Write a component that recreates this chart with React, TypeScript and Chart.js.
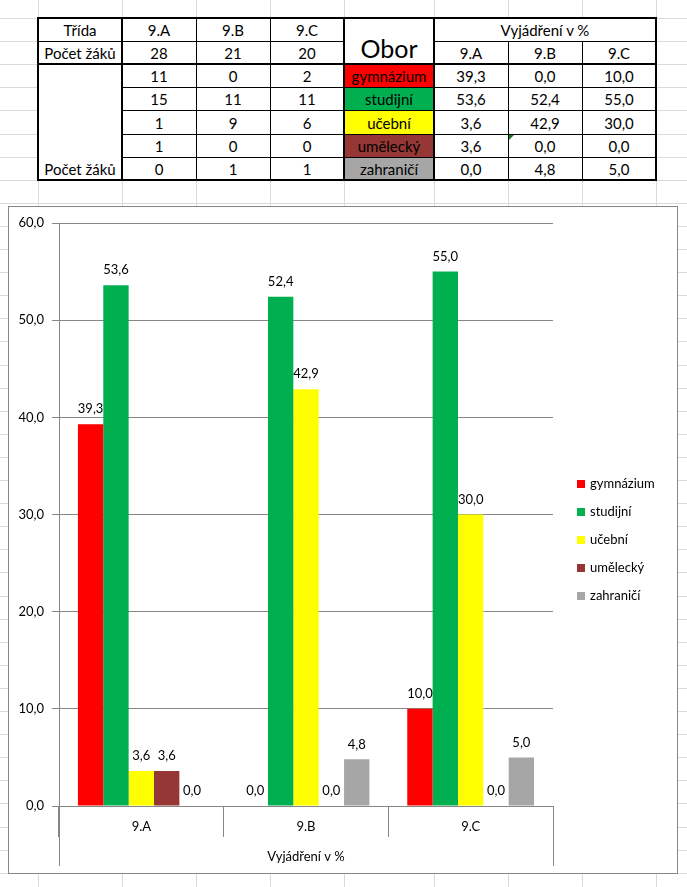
import React, { useEffect, useRef } from 'react';
import { Chart, registerables } from 'chart.js';

Chart.register(...registerables);

// ---------- data ----------
const classes = ['9.A', '9.B', '9.C'];
const pupilCounts = [28, 21, 20];
const fields = ['gymnázium', 'studijní', 'učební', 'umělecký', 'zahraničí'];
const fieldColors = ['#FF0000', '#00B050', '#FFFF00', '#953735', '#A6A6A6'];
const countsGymnazium = [11, 0, 2];
const countsStudijni = [15, 11, 11];
const countsUcebni = [1, 9, 6];
const countsUmelecky = [1, 0, 0];
const countsZahranici = [0, 1, 1];
const pctGymnazium = [39.3, 0.0, 10.0];
const pctStudijni = [53.6, 52.4, 55.0];
const pctUcebni = [3.6, 42.9, 30.0];
const pctUmelecky = [3.6, 0.0, 0.0];
const pctZahranici = [0.0, 4.8, 5.0];
const yTicks = [0, 10, 20, 30, 40, 50, 60];
const headerClass = 'Třída';
const headerPupils = 'Počet žáků';
const headerField = 'Obor';
const percentTitle = 'Vyjádření v %';

const countRows = [countsGymnazium, countsStudijni, countsUcebni, countsUmelecky, countsZahranici];
const pctRows = [pctGymnazium, pctStudijni, pctUcebni, pctUmelecky, pctZahranici];

const FONT = 'Lato, "Open Sans", sans-serif';
const fmt = (v: number) => v.toFixed(1).replace('.', ',');

// ---------- sheet layout ----------
const COLS = [38, 122, 196, 270, 344, 434, 508, 582, 656];
const rowY = (k: number) => Math.round(18 + 23.1 * k);
const GRID = '#DADADA';

function Cell(props: { x1: number; x2: number; y1: number; y2: number; text: string; bg?: string; size?: number; pb?: number }) {
  const { x1, x2, y1, y2, text, bg, size = 15, pb = 2 } = props;
  return (
    <div
      style={{
        position: 'absolute', left: x1, top: y1, width: x2 - x1, height: y2 - y1,
        display: 'flex', alignItems: 'flex-end', justifyContent: 'center',
        background: bg || 'transparent', fontFamily: FONT, fontSize: size, lineHeight: 1.2,
        paddingBottom: pb, boxSizing: 'border-box', color: '#000', whiteSpace: 'nowrap',
      }}
    >
      {text}
    </div>
  );
}

function HLine({ x1, x2, y, w = 1, color = '#000' }: { x1: number; x2: number; y: number; w?: number; color?: string }) {
  return <div style={{ position: 'absolute', left: x1 - (w > 1 ? 1 : 0), top: y - (w > 1 ? 1 : 0), width: x2 - x1 + (w > 1 ? 2 : 1), height: w, background: color }} />;
}
function VLine({ x, y1, y2, w = 1, color = '#000' }: { x: number; y1: number; y2: number; w?: number; color?: string }) {
  return <div style={{ position: 'absolute', left: x - (w > 1 ? 1 : 0), top: y1 - (w > 1 ? 1 : 0), width: w, height: y2 - y1 + (w > 1 ? 2 : 1), background: color }} />;
}

function SheetGrid() {
  const rows: number[] = [];
  for (let k = 0; rowY(k) < 887; k++) rows.push(rowY(k));
  return (
    <>
      {COLS.map((x) => <VLine key={'gv' + x} x={x} y1={0} y2={887} color={GRID} />)}
      {rows.map((y) => <HLine key={'gh' + y} x1={0} x2={687} y={y} color={GRID} />)}
    </>
  );
}

function Table() {
  const r = (k: number) => rowY(k);
  const c = COLS;
  const cells: React.ReactNode[] = [];
  // header rows
  cells.push(<Cell key="h0" x1={c[0]} x2={c[1]} y1={r(0)} y2={r(1)} text={headerClass} />);
  cells.push(<Cell key="h1" x1={c[0]} x2={c[1]} y1={r(1)} y2={r(2)} text={headerPupils} />);
  classes.forEach((cl, i) => {
    cells.push(<Cell key={'hc' + i} x1={c[1 + i]} x2={c[2 + i]} y1={r(0)} y2={r(1)} text={cl} />);
    cells.push(<Cell key={'pc' + i} x1={c[1 + i]} x2={c[2 + i]} y1={r(1)} y2={r(2)} text={String(pupilCounts[i])} />);
    cells.push(<Cell key={'pp' + i} x1={c[5 + i]} x2={c[6 + i]} y1={r(1)} y2={r(2)} text={cl} />);
  });
  cells.push(<Cell key="obor" x1={c[4]} x2={c[5]} y1={r(0)} y2={r(2)} text={headerField} size={25} pb={1} />);
  cells.push(<Cell key="vyj" x1={c[5]} x2={c[8]} y1={r(0)} y2={r(1)} text={percentTitle} />);
  cells.push(<Cell key="pz" x1={c[0]} x2={c[1]} y1={r(2)} y2={r(7)} text={headerPupils} />);
  fields.forEach((f, k) => {
    cells.push(<Cell key={'f' + k} x1={c[4]} x2={c[5]} y1={r(2 + k)} y2={r(3 + k)} text={f} bg={fieldColors[k]} />);
    classes.forEach((_, i) => {
      cells.push(<Cell key={'n' + k + i} x1={c[1 + i]} x2={c[2 + i]} y1={r(2 + k)} y2={r(3 + k)} text={String(countRows[k][i])} />);
      cells.push(<Cell key={'p' + k + i} x1={c[5 + i]} x2={c[6 + i]} y1={r(2 + k)} y2={r(3 + k)} text={fmt(pctRows[k][i])} />);
    });
  });

  const lines: React.ReactNode[] = [];
  // thin lines
  lines.push(<HLine key="t41a" x1={c[0]} x2={c[4]} y={r(1)} />);
  lines.push(<HLine key="t41b" x1={c[5]} x2={c[8]} y={r(1)} />);
  for (let k = 3; k <= 6; k++) lines.push(<HLine key={'th' + k} x1={c[1]} x2={c[8]} y={r(k)} />);
  [c[2], c[3]].forEach((x) => lines.push(<VLine key={'tv' + x} x={x} y1={r(0)} y2={r(7)} />));
  [c[6], c[7]].forEach((x) => lines.push(<VLine key={'tv' + x} x={x} y1={r(1)} y2={r(7)} />));
  // thick lines
  [r(0), r(2), r(7)].forEach((y) => lines.push(<HLine key={'Th' + y} x1={c[0]} x2={c[8]} y={y} w={2} />));
  [c[0], c[1], c[4], c[5], c[8]].forEach((x) => lines.push(<VLine key={'Tv' + x} x={x} y1={r(0)} y2={r(7)} w={2} />));

  return (
    <>
      <div style={{ position: 'absolute', left: c[0], top: r(0), width: c[8] - c[0], height: r(7) - r(0), background: '#fff' }} />
      {cells}
      {lines}
      <div style={{ position: 'absolute', left: c[6] + 1, top: r(5) + 1, width: 0, height: 0, borderTop: '5px solid #1D7A1D', borderRight: '5px solid transparent' }} />
    </>
  );
}

// ---------- chart ----------
function BarChart() {
  const ref = useRef<HTMLCanvasElement>(null);
  useEffect(() => {
    const canvas = ref.current;
    if (!canvas) return;

    const valueLabels = {
      id: 'valueLabels',
      afterDatasetsDraw(chart: any) {
        const ctx = chart.ctx;
        ctx.save();
        ctx.font = `13px ${FONT}`;
        ctx.fillStyle = '#000';
        ctx.textAlign = 'center';
        ctx.textBaseline = 'middle';
        chart.data.datasets.forEach((ds: any, i: number) => {
          const meta = chart.getDatasetMeta(i);
          meta.data.forEach((el: any, j: number) => {
            ctx.fillText(fmt(ds.data[j]), el.x, el.y - 15);
          });
        });
        ctx.restore();
      },
    };

    const extras = {
      id: 'extras',
      afterDraw(chart: any) {
        const ctx = chart.ctx;
        const xs = chart.scales.x;
        const area = chart.chartArea;
        ctx.save();
        ctx.strokeStyle = '#868686';
        ctx.lineWidth = 1;
        [xs.left, xs.right].forEach((px: number) => {
          const p = Math.round(px - 0.5) + 0.5;
          ctx.beginPath();
          ctx.moveTo(p, area.bottom);
          ctx.lineTo(p, xs.bottom - 7);
          ctx.stroke();
        });
        // legend
        const n = chart.data.datasets.length;
        const x0 = area.right + 24;
        const cy = chart.height / 2;
        ctx.font = `13px ${FONT}`;
        ctx.textAlign = 'left';
        ctx.textBaseline = 'middle';
        chart.data.datasets.forEach((ds: any, i: number) => {
          const y = Math.round(cy + (i - (n - 1) / 2) * 28);
          ctx.fillStyle = ds.backgroundColor;
          ctx.fillRect(x0, y - 4, 8, 8);
          ctx.fillStyle = '#000';
          ctx.fillText(ds.label, x0 + 13, y);
        });
        ctx.restore();
      },
    };

    const chart = new Chart(canvas, {
      type: 'bar',
      data: {
        labels: classes,
        datasets: fields.map((f, k) => ({
          label: f,
          data: pctRows[k],
          backgroundColor: fieldColors[k],
          borderWidth: 0,
          categoryPercentage: 0.77,
          barPercentage: 1,
        })),
      },
      options: {
        responsive: false,
        animation: false,
        events: [],
        layout: { padding: { left: 0, right: 124, top: 16, bottom: 0 } },
        plugins: { legend: { display: false }, tooltip: { enabled: false } },
        scales: {
          x: {
            type: 'category',
            grid: { offset: true, drawOnChartArea: false, drawTicks: true, tickLength: 31, color: '#868686' },
            border: { display: true, color: '#868686' },
            ticks: { padding: -18, color: '#000', font: { family: FONT, size: 13 } },
            title: { display: true, text: percentTitle, color: '#000', font: { family: FONT, size: 13 }, padding: { top: 0, bottom: 8 } },
            afterFit: (s: any) => { s.height = 67; },
          },
          y: {
            min: yTicks[0],
            max: yTicks[yTicks.length - 1],
            afterBuildTicks: (s: any) => { s.ticks = yTicks.map((v) => ({ value: v })); },
            ticks: { padding: 8, color: '#000', font: { family: FONT, size: 13 }, callback: (v: any) => fmt(Number(v)) },
            grid: { color: '#868686', tickLength: 7 },
            border: { color: '#868686' },
            afterFit: (s: any) => { s.width = 50; },
          },
        },
      },
      plugins: [valueLabels, extras],
    } as any);
    return () => chart.destroy();
  }, []);
  return <canvas ref={ref} width={668} height={666} style={{ display: 'block', position: 'absolute', left: 0, top: 0 }} />;
}

export default function App() {
  return (
    <div style={{ position: 'relative', width: 687, height: 887, background: '#fff', overflow: 'hidden' }}>
      <style>{'body{margin:0}'}</style>
      <SheetGrid />
      <Table />
      <div style={{ position: 'absolute', left: 8, top: 206, width: 670, height: 668, border: '1px solid #868686', boxSizing: 'border-box', background: '#fff' }}>
        <BarChart />
      </div>
    </div>
  );
}
